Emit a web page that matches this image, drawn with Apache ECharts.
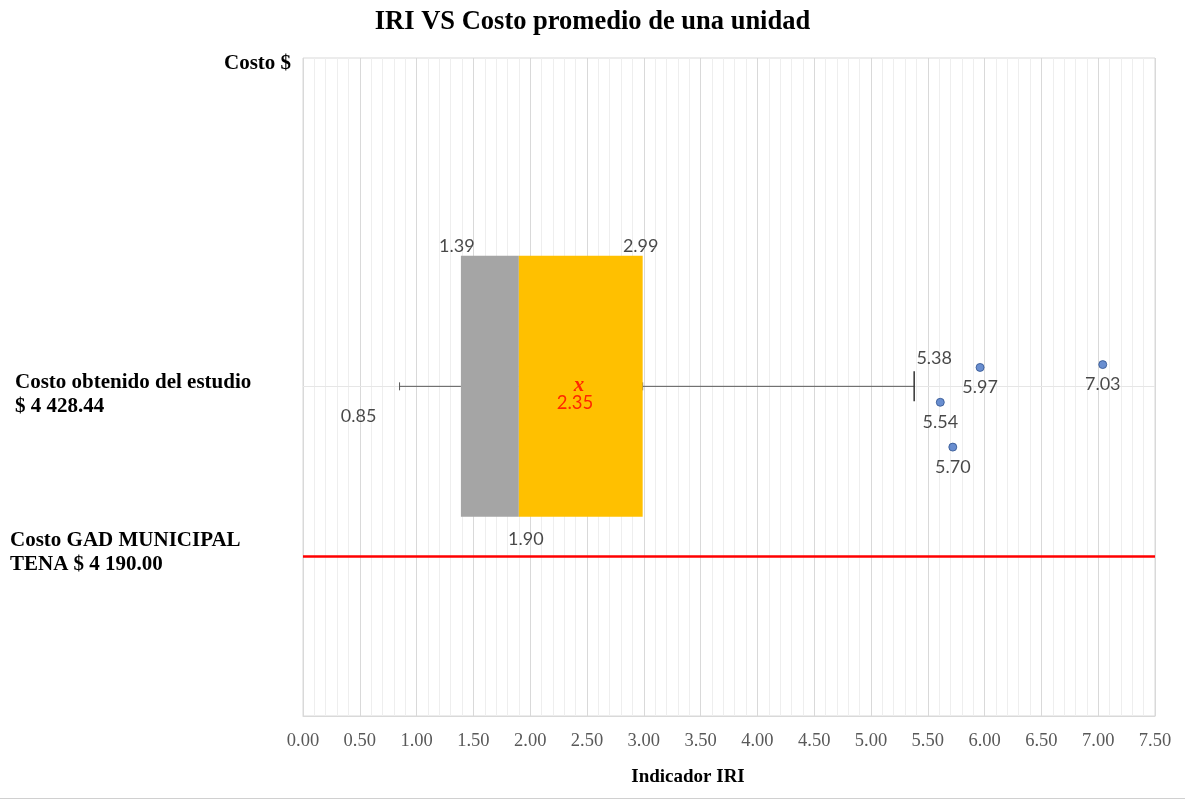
<!DOCTYPE html>
<html>
<head>
<meta charset="utf-8">
<script src="https://cdn.jsdelivr.net/npm/echarts@6/dist/echarts.min.js"></script>
<style>html,body{margin:0;padding:0;background:#fff;}#c{width:1185px;height:803px;}</style>
</head>
<body>
<div id="c"></div>
<script>
// ---- data ----
const chartTitle = 'IRI VS Costo promedio de una unidad';
const xAxisName = 'Indicador IRI';
const yAxisName = 'Costo $';
const xRange = [0, 7.5];
const xStep = 0.5;
const boxValues = [0.85, 1.39, 1.90, 2.99, 5.38]; // whisker low, Q1, median, Q3, whisker high
const meanValue = 2.35;
const outlierIRI = [5.61, 5.72, 5.96, 7.04];       // dot positions
const outlierCost = [4406, 4343, 4455, 4459];
const outlierLabels = ['5.54', '5.70', '5.97', '7.03'];
const studyCost = 4428.44;
const gadCost = 4190.00;
const boxCostRange = [4245, 4612];
const costRange = [3965, 4890];
const studyLabel = ['Costo obtenido del estudio', '$ 4 428.44'];
const gadLabel = ['Costo GAD MUNICIPAL', 'TENA $ 4 190.00'];

const serif = '"Liberation Serif", "DejaVu Serif", serif';
const sans = 'Lato, "Open Sans", sans-serif';
const chart = echarts.init(document.getElementById('c'));

function fmt(v) { return v.toFixed(2); }

const valueLabels = [
  { value: [boxValues[1], boxCostRange[1]], label: { position: 'top', offset: [-4, 4] } },
  { value: [boxValues[3], boxCostRange[1]], label: { position: 'top', offset: [-2, 4] } },
  { value: [boxValues[2], boxCostRange[0]], label: { position: 'bottom', offset: [7, 8] } },
  { value: [boxValues[0], studyCost], label: { position: 'bottom', offset: [-41, 16] } },
  { value: [boxValues[4], studyCost], label: { position: 'top', offset: [20, -14] } }
].map(d => Object.assign(d, { name: fmt(d.value[0]) }));

const outlierLabelData = outlierIRI.map((x, i) => ({
  value: [x, outlierCost[i]], name: outlierLabels[i],
  label: { position: 'bottom', offset: [0, 6] }
}));

chart.setOption({
  animation: false,
  backgroundColor: '#fff',
  title: {
    text: chartTitle, left: 'center', top: 4,
    textStyle: { fontFamily: serif, fontSize: 26.5, fontWeight: 'bold', color: '#000' }
  },
  grid: { left: 303, right: 30, top: 58, bottom: 87, show: true, borderColor: '#d9d9d9', borderWidth: 1 },
  xAxis: {
    type: 'value', min: xRange[0], max: xRange[1], interval: xStep,
    name: xAxisName, nameLocation: 'middle', nameGap: 52,
    nameTextStyle: { fontFamily: serif, fontSize: 19, fontWeight: 'bold', color: '#000', padding: [0, 82, 0, 0] },
    axisLine: { show: true, lineStyle: { color: '#d9d9d9' } },
    axisTick: { show: false },
    axisLabel: { formatter: v => fmt(v), fontFamily: serif, fontSize: 18.5, color: '#595959', margin: 16 },
    splitLine: { show: true, lineStyle: { color: '#d9d9d9', width: 1 } },
    minorTick: { show: false, splitNumber: 5 },
    minorSplitLine: { show: true, lineStyle: { color: '#eeeeee', width: 1 } }
  },
  yAxis: {
    type: 'value', min: costRange[0], max: costRange[1],
    axisLine: { show: false }, axisTick: { show: false },
    axisLabel: { show: false }, splitLine: { show: false }
  },
  graphic: [
    { type: 'text', left: 224, top: 53, style: { text: yAxisName, font: 'bold 21px ' + serif, fill: '#000' } },
    { type: 'text', left: 15, top: 371, style: { text: studyLabel.join('\n'), font: 'bold 21px ' + serif, fill: '#000', lineHeight: 24 } },
    { type: 'text', left: 10, top: 529, style: { text: gadLabel.join('\n'), font: 'bold 21px ' + serif, fill: '#000', lineHeight: 24 } },
    { type: 'rect', shape: { x: 0, y: 798, width: 1185, height: 1 }, style: { fill: '#d0d0d0' } }
  ],
  series: [
    {
      type: 'custom',
      data: [boxValues],
      silent: true,
      z: 3,
      renderItem: function (params, api) {
        const lo = api.value(0), q1 = api.value(1), md = api.value(2), q3 = api.value(3), hi = api.value(4);
        const pLo = api.coord([lo, studyCost]);
        const pHi = api.coord([hi, studyCost]);
        const tQ1 = api.coord([q1, boxCostRange[1]]);
        const bQ1 = api.coord([q1, boxCostRange[0]]);
        const tMd = api.coord([md, boxCostRange[1]]);
        const tQ3 = api.coord([q3, boxCostRange[1]]);
        const pQ3 = api.coord([q3, studyCost]);
        const pQ1 = api.coord([q1, studyCost]);
        const h = bQ1[1] - tQ1[1];
        const ls = { stroke: '#595959', lineWidth: 1 };
        return {
          type: 'group',
          children: [
            { type: 'line', shape: { x1: pLo[0], y1: pLo[1], x2: pQ1[0], y2: pQ1[1] }, style: ls },
            { type: 'line', shape: { x1: pLo[0], y1: pLo[1] - 4, x2: pLo[0], y2: pLo[1] + 4 }, style: ls },
            { type: 'line', shape: { x1: pQ3[0], y1: pQ3[1], x2: pHi[0], y2: pHi[1] }, style: ls },
            { type: 'line', shape: { x1: pQ3[0], y1: pQ3[1] - 4, x2: pQ3[0], y2: pQ3[1] + 4 }, style: ls },
            { type: 'line', shape: { x1: pHi[0], y1: pHi[1] - 15, x2: pHi[0], y2: pHi[1] + 15 }, style: { stroke: '#333333', lineWidth: 1.5 } },
            { type: 'rect', shape: { x: tQ1[0], y: tQ1[1], width: tMd[0] - tQ1[0], height: h }, style: { fill: '#A5A5A5' } },
            { type: 'rect', shape: { x: tMd[0], y: tMd[1], width: tQ3[0] - tMd[0], height: h }, style: { fill: '#FFC000' } }
          ]
        };
      },
      markLine: {
        silent: true, symbol: 'none', label: { show: false },
        data: [
          { yAxis: studyCost, lineStyle: { color: '#e6e6e6', width: 1, type: 'solid' } }
        ],
        z: 1
      }
    },
    {
      type: 'scatter',
      data: outlierIRI.map((x, i) => [x, outlierCost[i]]),
      symbol: 'circle', symbolSize: 8,
      itemStyle: { color: '#4472C4', borderColor: '#2F528F', borderWidth: 1 },
      silent: true, z: 4
    },
    {
      type: 'scatter',
      data: [[meanValue, studyCost]],
      symbolSize: 0, silent: true, z: 5,
      label: {
        show: true, position: 'inside', offset: [5, 10],
        formatter: () => '{x|x}\n{v|' + fmt(meanValue) + '}',
        rich: {
          x: { fontFamily: serif, fontSize: 21, fontStyle: 'italic', fontWeight: 'bold', color: '#FF0000', lineHeight: 14, padding: [0, 0, 0, 8] },
          v: { fontFamily: sans, fontSize: 18.5, color: '#FF0000', lineHeight: 22 }
        }
      }
    },
    {
      type: 'scatter',
      data: valueLabels.concat(outlierLabelData),
      symbolSize: 0, silent: true, z: 6,
      label: {
        show: true, formatter: p => p.name,
        fontFamily: sans, fontSize: 18, color: '#1a1a1a'
      }
    },
    {
      type: 'line',
      data: [],
      markLine: {
        silent: true, symbol: 'none', label: { show: false },
        lineStyle: { color: '#FF0000', width: 2.5, type: 'solid' },
        data: [{ yAxis: gadCost }]
      }
    }
  ]
});
</script>
</body>
</html>
